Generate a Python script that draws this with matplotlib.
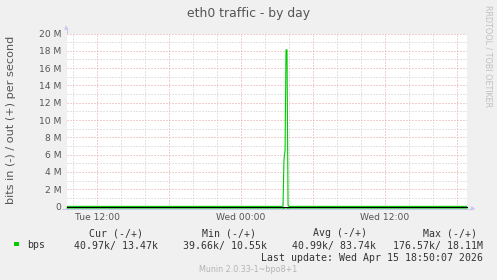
import numpy as np
import matplotlib.pyplot as plt
from matplotlib.transforms import offset_copy

# hours since Tue 00:00 (graph runs Tue 09:30 -> Wed 18:50)
hours = [9.5, 14.0, 20.0, 26.0, 27.42, 27.5, 27.58, 27.67, 27.75, 27.83, 27.92, 28.0, 34.0, 40.0, 42.83]
out_bps = [13.0e3, 11.5e3, 12.0e3, 12.5e3, 12.0e3, 0.05e6, 5.4e6, 6.5e6, 18.11e6, 18.11e6, 0.15e6, 13.0e3, 11.0e3, 12.0e3, 13.47e3]
in_bps = [41.0e3, 40.5e3, 40.0e3, 41.0e3, 41.0e3, 45.0e3, 120e3, 150e3, 176.57e3, 170e3, 60e3, 41.0e3, 39.66e3, 40.5e3, 40.97e3]

x_start, x_end = 9.5, 42.83
tick_hours = [12, 24, 36]
tick_labels = ['Tue 12:00', 'Wed 00:00', 'Wed 12:00']
y_ticks = [0, 2e6, 4e6, 6e6, 8e6, 10e6, 12e6, 14e6, 16e6, 18e6, 20e6]
y_labels = ['0', '2 M', '4 M', '6 M', '8 M', '10 M', '12 M', '14 M', '16 M', '18 M', '20 M']

legend_cols = ['Cur (-/+)', 'Min (-/+)', 'Avg (-/+)', 'Max (-/+)']
legend_vals = ['40.97k/ 13.47k', '39.66k/ 10.55k', '40.99k/ 83.74k', '176.57k/ 18.11M']

W, H = 497, 280
fig = plt.figure(figsize=(W / 100, H / 100), dpi=100)
fig.patch.set_facecolor('#f0f0f0')

L, R, T, B = 67, 467, 33.5, 206.5
ax = fig.add_axes([L / W, 1 - B / H, (R - L) / W, (B - T) / H])
ax.set_facecolor('white')
ax.set_xlim(x_start, x_end)
ax.set_ylim(0, 20e6)

dot = (0, (1, 2))
px = 0.72
for v in np.arange(1e6, 20.1e6, 1e6):
    major = v % 2e6 == 0
    ax.axhline(v, color='#e4a0a0' if major else '#c8c8c8', lw=px, ls=dot, zorder=1)
for h in np.arange(10, 43, 2):
    major = h % 6 == 0
    ax.axvline(h, color='#e4a0a0' if major else '#c8c8c8', lw=px, ls=dot, zorder=1)

# "in" is drawn negative; at this scale it sits a pixel under the zero line
in_tr = offset_copy(ax.transData, fig=fig, y=-1.2, units='dots')
ax.plot(hours, [-v for v in in_bps], color='#00cc00', lw=0.75, zorder=3, clip_on=False, transform=in_tr)
ax.plot(hours, out_bps, color='#00cc00', lw=0.8, zorder=3)
ax.axhline(0, color='black', lw=0.8, zorder=5, clip_on=False)

for s in ax.spines.values():
    s.set_visible(False)
ax.set_xticks(tick_hours)
ax.set_xticklabels(tick_labels)
ax.set_yticks(y_ticks)
ax.set_yticklabels(y_labels)
ax.tick_params(axis='both', length=0, labelsize=6.6, colors='#555555', pad=4)
ax.tick_params(axis='x', pad=4.5)

# axis lines with arrows
ax_col = '#c8c8f0'
fig.add_artist(plt.Line2D([(L - 0.5) / W] * 2, [1 - (B + 2) / H, 1 - 28 / H], color=ax_col, lw=0.75, zorder=-1))
fig.add_artist(plt.Line2D([(L - 5) / W, 473 / W], [1 - (B + 2.2) / H] * 2, color=ax_col, lw=0.75))
fig.text((L - 0.5) / W, 1 - 28 / H, '\u25b2', color=ax_col, fontsize=4, ha='center', va='center')
fig.text(473 / W, 1 - (B + 2.2) / H, '\u25b6', color=ax_col, fontsize=4, ha='center', va='center')

fig.text(248.5 / W, 1 - 14 / H, 'eth0 traffic - by day', ha='center', va='center',
         fontsize=8.9, color='#555555')
fig.text(11 / W, 1 - 119.5 / H, 'bits in (-) / out (+) per second', rotation=90,
         ha='center', va='center', fontsize=8.1, color='#555555')
fig.text(488 / W, 1 - 5 / H, 'RRDTOOL / TOBI OETIKER', rotation=270, ha='center', va='top',
         fontsize=5.8, color='#c0c0c0')

mono = 'DejaVu Sans Mono'
fs = 7.15
head_x = [89.3, 201.7, 313.0, 423.3]
val_right = [158.3, 266.7, 375.7, 483.3]
for hx, name in zip(head_x, legend_cols):
    fig.text(hx / W, 1 - 233.5 / H, name, family=mono, fontsize=fs, va='center', color='#333333')
for vx, val in zip(val_right, legend_vals):
    fig.text(vx / W, 1 - 245.5 / H, val, family=mono, fontsize=fs, va='center', ha='right', color='#333333')
fig.patches.append(plt.Rectangle((14 / W, 1 - 246 / H), 4.5 / W, 4.5 / H, transform=fig.transFigure,
                                 facecolor='#00cc00', edgecolor='none'))
fig.text(27 / W, 1 - 245.5 / H, 'bps', family=mono, fontsize=fs, va='center', color='#333333')
fig.text(483.3 / W, 1 - 257.7 / H, 'Last update: Wed Apr 15 18:50:07 2026', family=mono,
         fontsize=fs, va='center', ha='right', color='#333333')
fig.text(248.5 / W, 1 - 269.3 / H, 'Munin 2.0.33-1~bpo8+1', ha='center', va='center',
         fontsize=5.75, color='#b4b4b4')

fig.savefig('out.png', dpi=100, facecolor=fig.get_facecolor())
